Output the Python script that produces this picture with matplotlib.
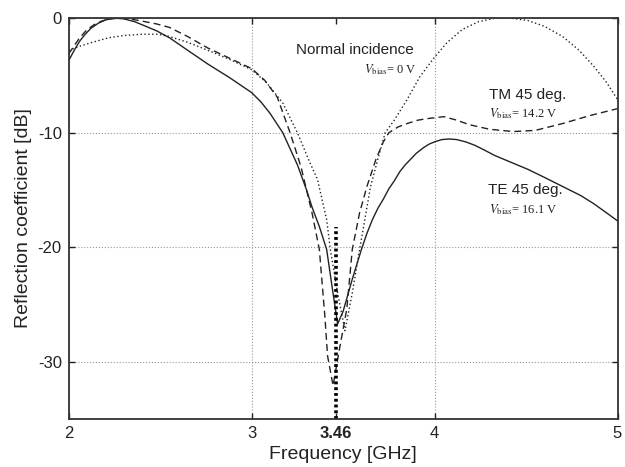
import matplotlib.pyplot as plt

plt.rcParams['font.family'] = ['Liberation Sans', 'DejaVu Sans']
plt.rcParams['mathtext.fontset'] = 'stix'

# TE 45 deg. (solid)
te_f = [2.00, 2.03, 2.06, 2.09, 2.12, 2.16, 2.20, 2.25, 2.30, 2.36, 2.42, 2.48, 2.55,
        2.65, 2.76, 2.88, 3.00, 3.05, 3.10, 3.17, 3.25, 3.30, 3.33, 3.37, 3.41, 3.44,
        3.47, 3.50, 3.55, 3.60, 3.63, 3.66, 3.69, 3.72, 3.75, 3.78, 3.81, 3.84, 3.87,
        3.90, 3.94, 3.97, 4.00, 4.04, 4.08, 4.12, 4.17, 4.22, 4.27, 4.33, 4.42, 4.51,
        4.60, 4.70, 4.80, 4.87, 4.94, 5.00]
te_db = [-3.7, -2.8, -2.0, -1.4, -0.9, -0.45, -0.15, 0.0, -0.05, -0.3, -0.7, -1.1, -1.7,
         -2.8, -4.0, -5.2, -6.5, -7.3, -8.3, -10.0, -12.8, -15.0, -16.5, -18.2, -20.2, -23.5,
         -26.7, -25.6, -22.8, -20.2, -18.8, -17.6, -16.6, -15.8, -14.9, -14.2, -13.4, -12.8, -12.3,
         -11.8, -11.3, -11.0, -10.8, -10.6, -10.55, -10.6, -10.8, -11.1, -11.5, -12.0, -12.6, -13.2,
         -13.9, -14.7, -15.5, -16.2, -17.0, -17.7]

# TM 45 deg. (dashed)
tm_f = [2.00, 2.03, 2.06, 2.10, 2.14, 2.18, 2.23, 2.28, 2.33, 2.40, 2.48, 2.55, 2.65,
        2.76, 2.88, 3.00, 3.07, 3.14, 3.21, 3.27, 3.33, 3.37, 3.40, 3.415, 3.445, 3.48,
        3.52, 3.55, 3.59, 3.63, 3.68, 3.72, 3.75, 3.80, 3.85, 3.91, 3.97, 4.05, 4.12,
        4.19, 4.30, 4.43, 4.55, 4.70, 4.85, 5.00]
tm_db = [-3.1, -2.4, -1.7, -1.0, -0.55, -0.25, -0.05, 0.0, -0.05, -0.25, -0.5, -0.8, -1.6,
         -2.6, -3.5, -4.4, -5.4, -6.9, -10.0, -13.0, -17.0, -20.2, -26.0, -29.5, -32.1, -28.9,
         -25.4, -20.2, -17.0, -14.7, -12.3, -10.8, -10.0, -9.5, -9.2, -8.9, -8.75, -8.6, -8.9,
         -9.3, -9.7, -9.9, -9.8, -9.2, -8.5, -7.9]

# Normal incidence (dotted)
ni_f = [2.00, 2.05, 2.13, 2.22, 2.31, 2.40, 2.49, 2.55, 2.65, 2.76, 2.88, 3.00,
        3.08, 3.17, 3.25, 3.31, 3.36, 3.41, 3.43, 3.47, 3.51, 3.55, 3.59, 3.65, 3.69,
        3.73, 3.78, 3.85, 3.92, 4.00, 4.07, 4.15, 4.24, 4.33, 4.42, 4.51, 4.60, 4.70,
        4.79, 4.87, 4.94, 5.00]
ni_db = [-2.8, -2.5, -2.1, -1.7, -1.5, -1.4, -1.4, -1.6, -2.1, -2.8, -3.6, -4.5,
         -5.6, -7.4, -10.0, -12.3, -14.1, -17.6, -20.2, -24.0, -27.3, -24.0, -20.2, -14.7, -12.3,
         -10.0, -8.9, -7.1, -5.1, -3.4, -2.1, -1.0, -0.3, 0.0, 0.0, -0.2, -0.7, -1.6,
         -2.8, -4.2, -5.6, -7.1]

marker_f = 3.46
marker_top = -18.2

fig = plt.figure(figsize=(6.25, 4.67), dpi=100)
ax = fig.add_axes([0.110, 0.103, 0.878, 0.858])

ink = '#222222'
ax.plot(ni_f, ni_db, color=ink, lw=1.0, linestyle=(0, (1, 1.8)))
ax.plot(tm_f, tm_db, color=ink, lw=1.0, linestyle=(0, (5, 3)))
ax.plot(te_f, te_db, color=ink, lw=1.0)
ax.plot([marker_f, marker_f], [-35, marker_top], color='black', lw=2.6,
        linestyle=(0, (0.8, 0.8)))

for gx in [2, 3, 4, 5]:
    ax.axvline(gx, color='#999999', lw=0.8, linestyle=':', zorder=0)
for gy in [0, -10, -20, -30]:
    ax.axhline(gy, color='#999999', lw=0.8, linestyle=':', zorder=0)

ax.set_xlim(2, 5)
ax.set_ylim(-35, 0)
ax.set_xticks([2, 3, 3.46, 4, 5])
ax.set_xticklabels(['2', '3', '3.46', '4', '5'])
ax.get_xticklabels()[2].set_fontweight('bold')
ax.set_yticks([0, -10, -20, -30])
ax.set_yticklabels(['0', '-10', '-20', '-30'])
ax.tick_params(direction='in', length=4, width=1, top=True, right=True,
               labelsize=12, colors='#222222', pad=5)
for s in ax.spines.values():
    s.set_color('#333333')
    s.set_linewidth(1.3)

ax.set_xlabel('Frequency [GHz]', fontsize=14, color='#222222', labelpad=4)
ax.set_ylabel('Reflection coefficient [dB]', fontsize=14, color='#222222', labelpad=4)

ax.text(3.24, -2.8, 'Normal incidence', fontsize=11, va='center', ha='left', color=ink)
ax.text(3.90, -4.5, r'$V_{\rm bias}$= 0 V', fontsize=9, va='center', ha='right',
        family='Liberation Serif', color=ink)
ax.text(4.296, -6.7, 'TM 45 deg.', fontsize=11, va='center', ha='left', color=ink)
ax.text(4.30, -8.3, r'$V_{\rm bias}$= 14.2 V', fontsize=9, va='center', ha='left',
        family='Liberation Serif', color=ink)
ax.text(4.29, -15.0, 'TE 45 deg.', fontsize=11, va='center', ha='left', color=ink)
ax.text(4.30, -16.7, r'$V_{\rm bias}$= 16.1 V', fontsize=9, va='center', ha='left',
        family='Liberation Serif', color=ink)

fig.savefig('out.png', dpi=100)
